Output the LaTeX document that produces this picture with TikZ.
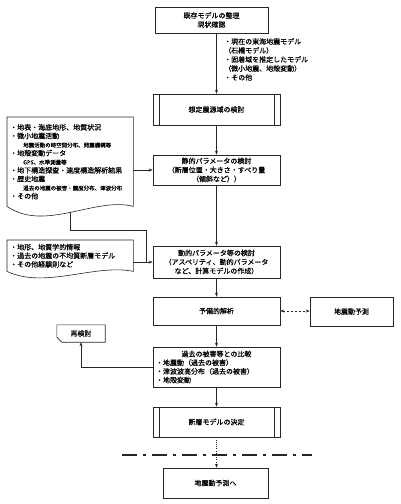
\documentclass[tikz,border=0pt]{standalone}
\usepackage{fontspec}
\setmainfont{Noto Sans CJK JP}[FakeBold=0.4]
\usetikzlibrary{arrows.meta}
\newcommand{\smalltext}{\fontsize{5.5}{8.6}\selectfont}

\begin{document}
\begin{tikzpicture}[x=1pt, y=-1pt,
    font=\fontsize{7}{9}\selectfont,
    line/.style={draw=black!85, line width=0.6pt},
    box/.style={line, minimum width=127pt, align=center, inner sep=1pt, fill=white},
    proc/.style={box, path picture={
        \draw[line] ([xshift=6pt]path picture bounding box.north west) -- ([xshift=6pt]path picture bounding box.south west)
                    ([xshift=-6pt]path picture bounding box.north east) -- ([xshift=-6pt]path picture bounding box.south east);}},
    doc/.style={inner xsep=3pt, inner ysep=0pt, text width=120pt, align=left, anchor=north west, font=\fontsize{7}{8.6}\selectfont},
    arr/.style={->, line, >={Stealth[length=4pt,width=3pt]}}
]
    \useasboundingbox (0,0) rectangle (400,504);

    % Main column
    \node[box, minimum width=113pt, minimum height=26pt] (old) at (211.5,20) {既存モデルの整理\\現状確認};
    \node[anchor=north west, align=left, inner sep=0pt] (note) at (224,38) {・現在の東海地震モデル\\（石橋モデル）\\・固着域を推定したモデル\\（微小地震、地殻変動）\\・その他};
    \node[proc, minimum height=31pt] (area) at (216.5,109.5) {想定震源域の検討};
    \node[box, minimum height=30pt] (stat) at (216.5,170) {静的パラメータの検討\\（断層位置・大きさ・すべり量\\（傾斜など））};
    \node[box, minimum height=32pt] (dyn) at (216.5,262) {動的パラメータ等の検討\\（アスペリティ、動的パラメータ\\など、計算モデルの作成）};
    \node[box, minimum height=28pt] (pre) at (216.5,311) {予備的解析};
    \node[box, minimum width=83pt, minimum height=29pt] (gm) at (351.5,311.5) {地震動予測};
    \node[box, minimum height=40pt, align=left, text width=121pt, font=\fontsize{7}{8.7}\selectfont] (comp) at (216.5,367)
        {\makebox[\linewidth]{過去の被害等との比較}\\・地震動（過去の被害）\\・津波波高分布（過去の被害）\\・地殻変動};
    \node[minimum width=48pt, minimum height=17pt, inner sep=1pt] (redo) at (81,333.5) {再検討};
    \draw[line] (redo.north west) -- (redo.north east) -- (redo.south east) -- ([xshift=5pt]redo.south west)
        -- ([yshift=5pt]redo.south west) -- cycle;
    \node[proc, minimum height=30pt] (fix) at (216.5,422) {断層モデルの決定};
    \node[box, minimum width=105pt, minimum height=30pt] (next) at (215.5,483) {地震動予測へ};

    % Data sheets
    \node[doc, minimum height=89pt] (geo) at (7,117) {・地表・海底地形、地質状況\\
        ・微小地震活動\\
        \hspace*{13pt}{\smalltext 地震活動の時空間分布、発震機構等}\\
        ・地殻変動データ\\
        \hspace*{13pt}{\smalltext GPS、水準測量等}\\
        ・地下構造探査・速度構造解析結果\\
        ・歴史地震\\
        \hspace*{13pt}{\smalltext 過去の地震の被害・震度分布、津波分布}\\
        ・その他};
    \draw[line] (geo.south east) .. controls +(-38,-10) and +(38,26) .. (geo.south west) coordinate[pos=0.5] (geo-b)
        -- (geo.north west) -- (geo.north east) -- cycle;
    \node[doc, minimum height=31pt] (lit) at (7,240) {・地形、地質学的情報\\・過去の地震の不均質断層モデル\\・その他経験則など};
    \draw[line] (lit.south east) .. controls +(-38,-8) and +(38,18) .. (lit.south west)
        -- (lit.north west) -- (lit.north east) -- cycle;

    % Arrows
    \draw[arr] (old.south -| area.north) -- (area.north);
    \draw[arr] (area) -- (stat);
    \draw[arr] (stat) -- (dyn);
    \draw[arr] (dyn) -- (pre);
    \draw[arr, <->, dash pattern=on 2.5pt off 1.5pt] (pre.east) -- (pre.east -| gm.west);
    \draw[arr] (pre) -- (comp);
    \draw[arr] (comp) -- (fix);
    \draw[arr] (comp.west) -| (redo.south);
    \draw[arr, dash pattern=on 1pt off 1.2pt] (fix.south) -- (fix.south |- next.north);
    \draw[arr] (geo.east |- stat.west) -- (stat.west);
    \draw[arr] (lit.east |- dyn.west) -- (dyn.west);
    \coordinate (merge) at ([xshift=-6pt]dyn.west);
    \draw[line] (geo-b) -- ++(0,18) -| (merge);

    % Boundary
    \draw[black!85, line width=1.8pt, dash pattern=on 15pt off 6pt on 3pt off 6pt] (122,455) -- (312,455);
\end{tikzpicture}
\end{document}
